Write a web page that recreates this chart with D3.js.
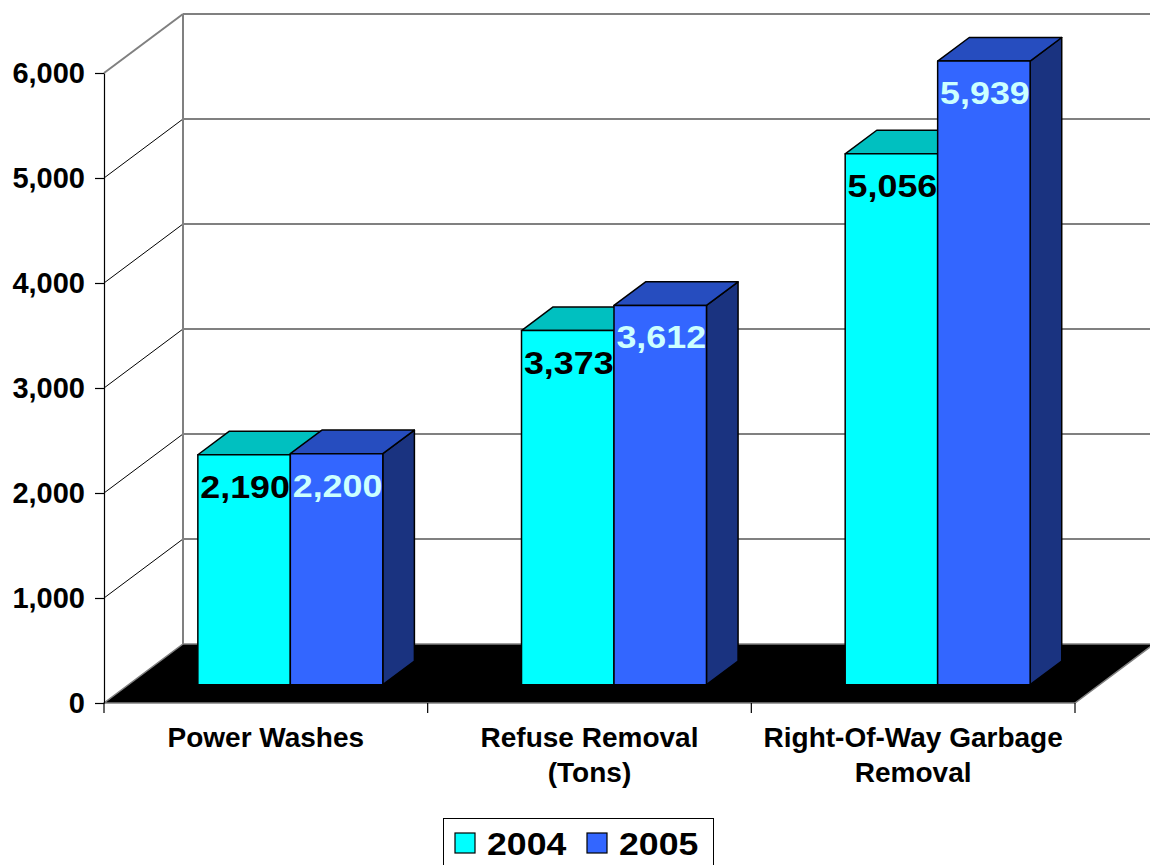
<!DOCTYPE html>
<html>
<head>
<meta charset="utf-8">
<script src="https://cdn.jsdelivr.net/npm/d3@7/dist/d3.min.js"></script>
<style>
  html, body { margin: 0; padding: 0; background: #fff; }
  svg { display: block; font-family: "Liberation Sans", Arial, sans-serif; }
</style>
</head>
<body>
<script>
// Categories, series and tick values
const categories = ["Power Washes", "Refuse Removal (Tons)", "Right-Of-Way Garbage Removal"];
const categoryLines = [["Power Washes"], ["Refuse Removal", "(Tons)"], ["Right-Of-Way Garbage", "Removal"]];
const years = ["2004", "2005"];
const values2004 = [2190, 3373, 5056];
const values2005 = [2200, 3612, 5939];
const yTicks = [0, 1000, 2000, 3000, 4000, 5000, 6000];

// Face colours per series: front, top, side, label
const palette = {
  "2004": { front: "#00FFFF", top: "#00C0C0", side: "#008080", label: "#000000" },
  "2005": { front: "#3366FF", top: "#264DBF", side: "#1A3380", label: "#CCFFFF" }
};

const seriesData = [
  { name: years[0], values: values2004 },
  { name: years[1], values: values2005 }
];

const W = 1150, H = 865;
const svg = d3.select("body").append("svg").attr("width", W).attr("height", H);

// Front-plane scales
const x0 = d3.scaleBand().domain(categories).range([104, 1075]).paddingInner(0).paddingOuter(0);
const x1 = d3.scaleBand().domain(years).range([0, x0.bandwidth()]).paddingInner(0).paddingOuter(0.75);
const y = d3.scaleLinear().domain([0, 6000]).range([703, 73]);

// Oblique depth projection
const DX = 79, DY = 59;
const zFront = 0.31, zBack = 0.71;
const proj = (px, v, z) => [px + z * DX, y(v) - z * DY];
const pts = arr => arr.map(p => p.join(",")).join(" ");

const xL = x0.range()[0], xR = x0.range()[1];
const grid = svg.append("g");

// Back wall gridlines
grid.selectAll("line.h").data(yTicks.filter(d => d > 0)).join("line")
  .attr("x1", xL + DX).attr("x2", xR + DX)
  .attr("y1", d => y(d) - DY).attr("y2", d => y(d) - DY)
  .attr("stroke", "#808080").attr("stroke-width", 2);

// Side wall diagonals
grid.selectAll("line.d").data(yTicks.filter(d => d > 0)).join("line")
  .attr("x1", xL).attr("y1", d => y(d))
  .attr("x2", xL + DX).attr("y2", d => y(d) - DY)
  .attr("stroke", d => d === 6000 ? "#808080" : "#000")
  .attr("stroke-width", d => d === 6000 ? 2 : 1);

// Back wall left edge
grid.append("line")
  .attr("x1", xL + DX).attr("x2", xL + DX)
  .attr("y1", y(6000) - DY).attr("y2", y(0) - DY)
  .attr("stroke", "#808080").attr("stroke-width", 2);

// Floor
svg.append("polygon")
  .attr("points", pts([proj(xL, 0, 0), proj(xR, 0, 0), proj(xR, 0, 1), proj(xL, 0, 1)]))
  .attr("fill", "#000").attr("stroke", "#808080").attr("stroke-width", 1.5);

// Bars
const bars = svg.append("g");
categories.forEach((c, i) => {
  seriesData.forEach(s => {
    const v = s.values[i];
    const col = palette[s.name];
    const l = x0(c) + x1(s.name);
    const r = l + x1.bandwidth();
    const g = bars.append("g").attr("stroke", "#000").attr("stroke-width", 1.5).attr("stroke-linejoin", "round");
    g.append("polygon").attr("fill", col.side)
      .attr("points", pts([proj(r, v, zFront), proj(r, v, zBack), proj(r, 0, zBack), proj(r, 0, zFront)]));
    g.append("polygon").attr("fill", col.top)
      .attr("points", pts([proj(l, v, zFront), proj(r, v, zFront), proj(r, v, zBack), proj(l, v, zBack)]));
    g.append("polygon").attr("fill", col.front)
      .attr("points", pts([proj(l, v, zFront), proj(r, v, zFront), proj(r, 0, zFront), proj(l, 0, zFront)]));
  });
});

// Value labels on the front faces (slightly widened glyphs)
const labels = svg.append("g")
  .attr("font-size", 32).attr("font-weight", "bold").attr("text-anchor", "middle");
categories.forEach((c, i) => {
  seriesData.forEach(s => {
    const v = s.values[i];
    const l = x0(c) + x1(s.name);
    const top = proj(l + x1.bandwidth() / 2, v, zFront);
    labels.append("text")
      .attr("transform", `translate(${top[0] + 1},${top[1] + 43}) scale(1.12,1)`)
      .attr("fill", palette[s.name].label)
      .text(d3.format(",")(v));
  });
});

// Y axis
const yAxis = svg.append("g").attr("transform", `translate(${xL},0)`)
  .call(d3.axisLeft(y).tickValues(yTicks).tickFormat(d3.format(",")).tickSize(9).tickSizeOuter(0).tickPadding(10));
yAxis.select(".domain").attr("stroke", "#000").attr("stroke-width", 1.2);
yAxis.selectAll(".tick line").attr("stroke", "#000").attr("stroke-width", 1.2);
yAxis.selectAll(".tick text").attr("font-size", 29).attr("font-weight", "bold")
  .attr("font-family", "'Liberation Sans', Arial, sans-serif").attr("fill", "#000");

// X axis ticks at category boundaries
const bounds = categories.map(c => x0(c)).concat([xR]);
svg.append("g").selectAll("line").data(bounds).join("line")
  .attr("x1", d => d).attr("x2", d => d)
  .attr("y1", y(0)).attr("y2", y(0) + 10)
  .attr("stroke", "#000").attr("stroke-width", 1.2);

// Category labels
const cat = svg.append("g").attr("font-size", 28).attr("font-weight", "bold").attr("text-anchor", "middle");
categories.forEach((c, i) => {
  const t = cat.append("text").attr("x", x0(c) + x0.bandwidth() / 2).attr("y", 747);
  categoryLines[i].forEach((line, j) => {
    t.append("tspan").attr("x", x0(c) + x0.bandwidth() / 2).attr("dy", j === 0 ? 0 : 35).text(line);
  });
});

// Legend
const legend = svg.append("g");
legend.append("rect").attr("x", 443.5).attr("y", 818.5).attr("width", 270).attr("height", 52)
  .attr("fill", "#fff").attr("stroke", "#000").attr("stroke-width", 1);
const legendX = [455, 587];
years.forEach((yr, i) => {
  legend.append("rect").attr("x", legendX[i]).attr("y", 833).attr("width", 20).attr("height", 20)
    .attr("fill", palette[yr].front).attr("stroke", "#000").attr("stroke-width", 1.2);
  legend.append("text")
    .attr("transform", `translate(${legendX[i] + 32},855) scale(1.15,1)`)
    .attr("font-size", 31).attr("font-weight", "bold")
    .attr("fill", "#000").text(yr);
});
</script>
</body>
</html>
